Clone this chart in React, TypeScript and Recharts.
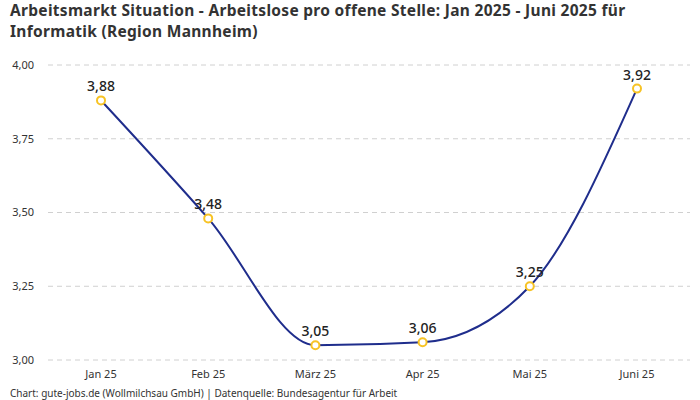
import { LineChart, Line, XAxis, YAxis, CartesianGrid, LabelList } from "recharts"

const months = ["Jan 25", "Feb 25", "März 25", "Apr 25", "Mai 25", "Juni 25"]
const ratio = [3.88, 3.48, 3.05, 3.06, 3.25, 3.92]
const yTicks = [3, 3.25, 3.5, 3.75, 4]

const data = months.map((m, i) => ({ month: m, value: ratio[i] }))

const font = "'Noto Sans', sans-serif"
const fmt = (v: number) => v.toFixed(2).replace(".", ",")

const titleStyle = {
  position: "absolute" as const,
  left: 10,
  fontSize: 15.5,
  fontWeight: 700,
  lineHeight: "21px",
  letterSpacing: "0.3px",
  color: "#333",
  whiteSpace: "nowrap" as const,
}

export default function App() {
  return (
    <div
      style={{
        position: "absolute",
        left: 0,
        top: 0,
        width: 700,
        height: 400,
        background: "#fff",
        fontFamily: font,
      }}
    >
      <div style={{ ...titleStyle, top: 0 }}>
        Arbeitsmarkt Situation - Arbeitslose pro offene Stelle: Jan 2025 - Juni 2025 für
      </div>
      <div style={{ ...titleStyle, top: 21 }}>Informatik (Region Mannheim)</div>
      <LineChart
        width={700}
        height={400}
        data={data}
        margin={{ top: 65, right: 10, left: 0, bottom: 16 }}
      >
        <CartesianGrid vertical={false} stroke="#d0d0d0" strokeDasharray="5 4" />
        <XAxis
          dataKey="month"
          axisLine={false}
          tickLine={false}
          tickSize={0}
          tickMargin={10}
          height={24}
          padding={{ left: 53, right: 53 }}
          tick={{ fill: "#333", fontSize: 11, fontFamily: font }}
        />
        <YAxis
          domain={[3, 4]}
          ticks={yTicks}
          tickFormatter={fmt}
          axisLine={false}
          tickLine={false}
          tickSize={0}
          tickMargin={14}
          width={48}
          tick={{ fill: "#333", fontSize: 11, fontFamily: font }}
        />
        <Line
          type="monotone"
          dataKey="value"
          stroke="#1f2d8c"
          strokeWidth={2}
          dot={{ r: 4, fill: "#fff", stroke: "#f7c325", strokeWidth: 2 }}
          isAnimationActive={false}
        >
          <LabelList
            dataKey="value"
            position="top"
            offset={9}
            formatter={(v: number) => fmt(v)}
            style={{ fill: "#222", fontSize: 14, fontWeight: 500, fontFamily: font }}
          />
        </Line>
      </LineChart>
      <div
        style={{
          position: "absolute",
          left: 10,
          top: 386,
          fontSize: 10,
          color: "#333",
        }}
      >
        Chart: gute-jobs.de (Wollmilchsau GmbH) | Datenquelle: Bundesagentur für Arbeit
      </div>
    </div>
  )
}
